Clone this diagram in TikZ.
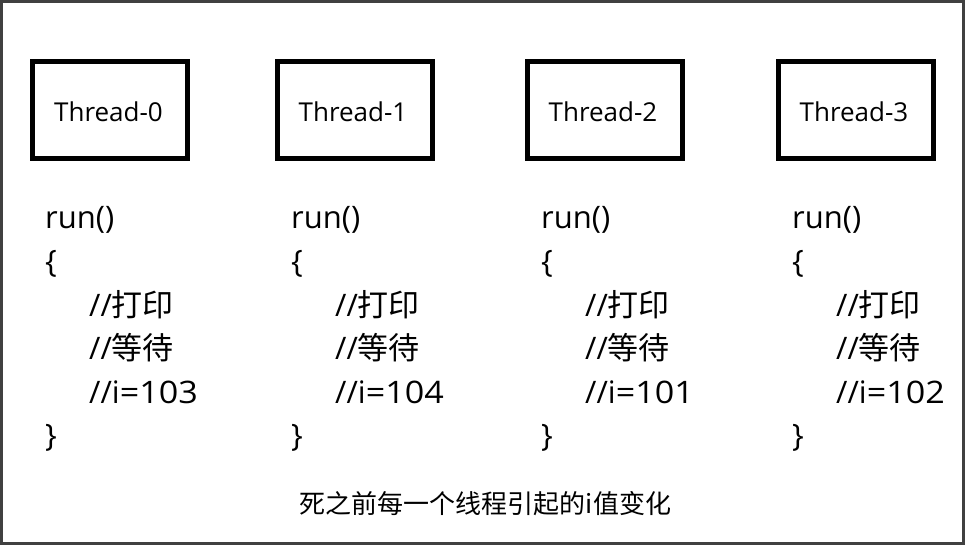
\documentclass[tikz,border=0pt]{standalone}
\usepackage{fontspec}
\setmainfont{Open Sans}
\newfontfamily\cjk{Noto Sans CJK SC}
\newfontfamily\widedigits{Open Sans}[FakeStretch=1.1]
\begin{document}
\begin{tikzpicture}[x=1pt,y=-1pt,
  tbox/.style={draw=black, line width=5pt, minimum width=155pt, minimum height=97pt, inner sep=0pt, text height=23.5pt, text depth=0pt, font=\fontsize{26}{26}\selectfont},
  code/.style={anchor=base west, inner sep=0pt, font=\fontsize{31}{31}\selectfont},
  captext/.style={inner sep=0pt, font=\cjk\fontsize{26}{26}\selectfont}]
\fill[black!75] (0,0) rectangle (965,545);
\fill[white] (3,3) rectangle (962,542);
\useasboundingbox (0,0) rectangle (965,545);
% thread boxes
\node[tbox] (t0) at (110,110) {Thread-0\kern3pt};
\node[tbox] (t1) at (354.5,110) {Thread-1\kern3pt};
\node[tbox] (t2) at (604.5,110) {Thread-2\kern3pt};
\node[tbox] (t3) at (855.5,110) {Thread-3\kern3pt};
% code columns
\foreach \x/\v [count=\k from 0] in {45/103, 291/104, 541/101, 792/102}{
  \node[code] (r\k) at (\x,229) {run()};
  \node[code] (o\k) at (\x,272.5) {\{};
  \node[code] (p\k) at (\x+44,316) {//{\cjk 打印}};
  \node[code] (w\k) at (\x+44,359.5) {//{\cjk 等待}};
  \node[code] (i\k) at (\x+44,403) {//i{\widedigits =\v}};
  \node[code] (c\k) at (\x,446.5) {\}};
}
\node[captext] (caption) at (485.5,504) {死之前每一个线程引起的i值变化};
\end{tikzpicture}
\end{document}
